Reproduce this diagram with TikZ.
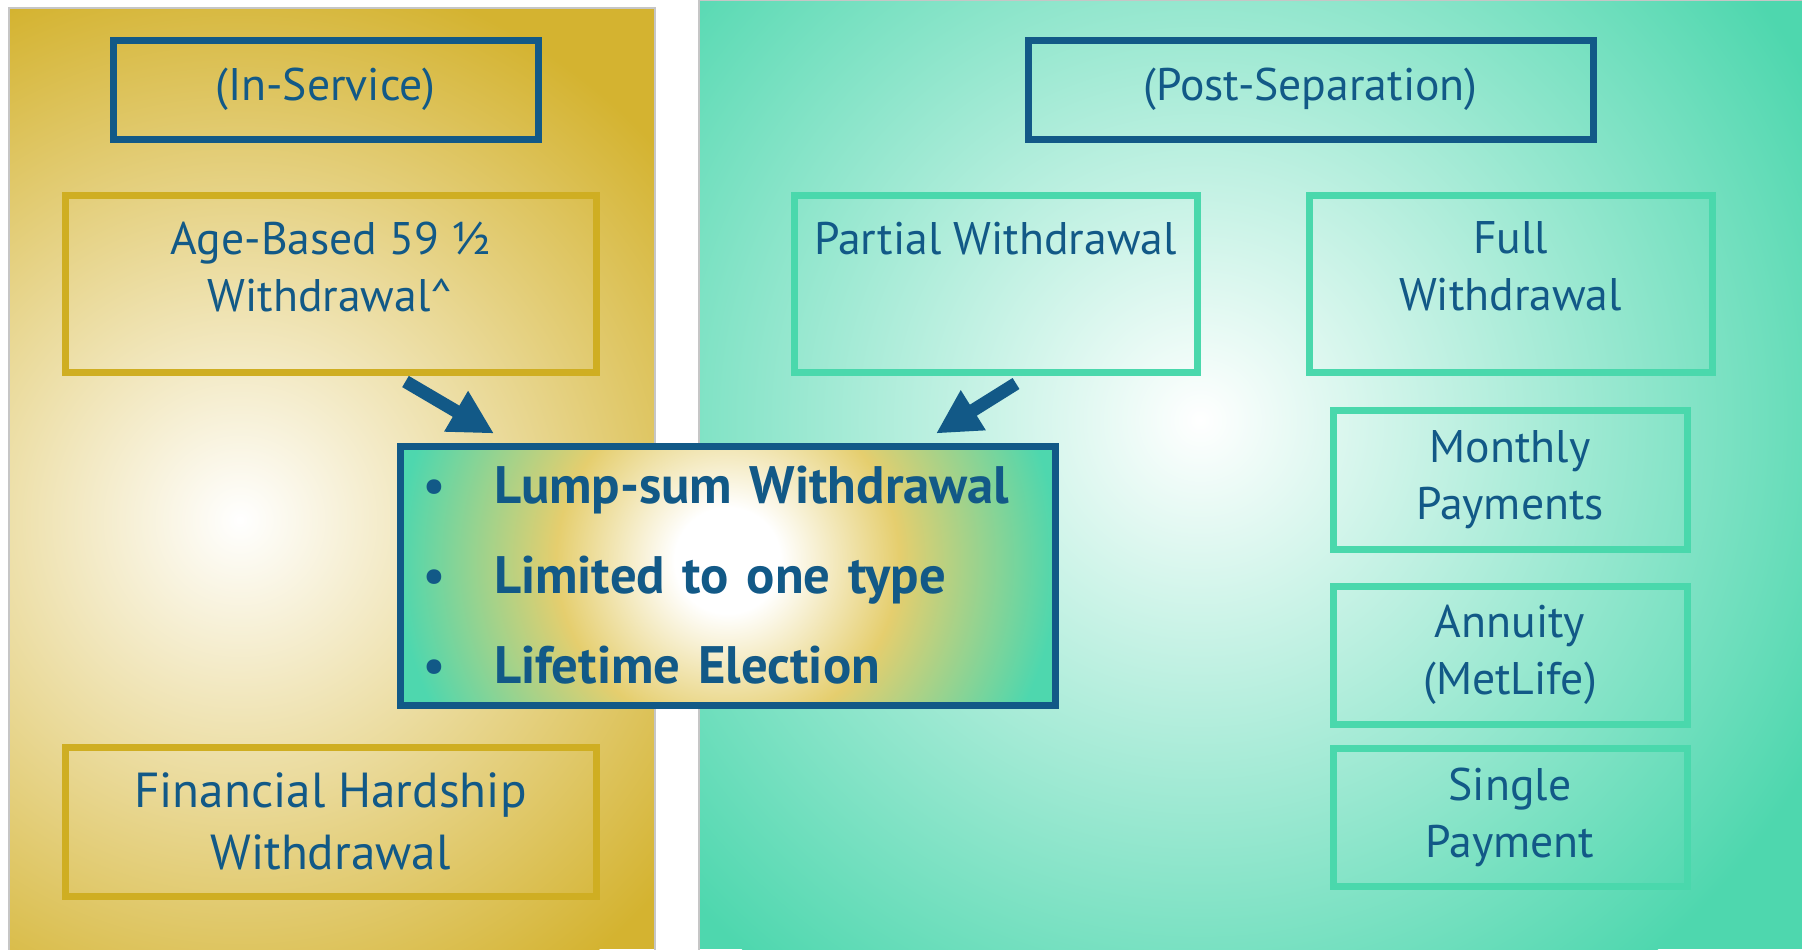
\documentclass[tikz,border=0pt]{standalone}
\usepackage{fontspec}
\setmainfont{PT Sans}
\usetikzlibrary{arrows.meta,calc}

\definecolor{planblue}{RGB}{18,89,135}
\definecolor{goldline}{RGB}{207,174,34}
\definecolor{goldpanel}{RGB}{212,179,48}
\definecolor{tealline}{RGB}{74,216,172}
\definecolor{tealpanel}{RGB}{78,215,174}
\definecolor{ringgold}{RGB}{229,206,110}
\pgfdeclareradialshading{lumpshade}{\pgfpoint{0bp}{0bp}}{color(0bp)=(white); color(4bp)=(white); color(13bp)=(ringgold); color(25bp)=(tealpanel); color(50bp)=(tealpanel)}

\begin{document}
\begin{tikzpicture}[
    txt/.style={text=planblue,align=center,font=\fontsize{13}{16.2}\selectfont},
    headbox/.style={txt,draw=planblue,line width=0.07cm,minimum height=0.99cm},
    goldbox/.style={txt,draw=goldline,line width=0.07cm,minimum width=5.31cm,inner sep=0pt},
    tealbox/.style={txt,draw=tealline,line width=0.07cm,inner sep=0pt},
    bigarrow/.style={planblue,line width=0.13cm,-{Triangle[width=0.44cm,length=0.44cm]}}]
    \useasboundingbox (0,0) rectangle (18.02,-9.49);

    % left panel
    \begin{scope}
      \clip (0.09,-0.08) rectangle (6.55,-9.49);
      \fill[goldpanel] (0.09,-0.08) rectangle (6.55,-9.49);
      \shade[inner color=white,outer color=goldpanel] (2.4,-5.2) circle (5.6cm);
    \end{scope}
    \draw[gray!45,line width=0.02cm] (0.09,-9.6)--(0.09,-0.08)--(6.55,-0.08)--(6.55,-9.6);

    % right panel
    \begin{scope}
      \clip (6.99,0) rectangle (18.02,-9.49);
      \fill[tealpanel] (6.99,0) rectangle (18.02,-9.49);
      \shade[inner color=white,outer color=tealpanel] (12.0,-4.2) circle (7cm);
    \end{scope}
    \draw[gray!45,line width=0.02cm] (6.99,-9.6)--(6.99,0)--(18.1,0);

    % in-service side
    \node[headbox,minimum width=4.25cm] (inserv) at (3.255,-0.895) {(In-Service)};
    \node[goldbox,minimum height=1.77cm] (agebased) at (3.305,-2.835)
      {\parbox[c][1.23cm][t]{5cm}{\centering Age-Based 59 ½\\Withdrawal\textasciicircum}};
    \node[goldbox,minimum height=1.49cm,font=\fontsize{14}{17.6}\selectfont] (hardship) at (3.305,-8.215)
      {Financial Hardship\\Withdrawal};

    % post-separation side
    \node[headbox,minimum width=5.65cm] (postsep) at (13.105,-0.895) {(Post-Separation)};
    \node[tealbox,minimum width=4.03cm,minimum height=1.77cm] (partial) at (9.955,-2.835)
      {\parbox[c][1.23cm][t]{3.8cm}{\centering Partial Withdrawal}};
    \node[tealbox,minimum width=4.03cm,minimum height=1.77cm] (full) at (15.105,-2.835)
      {\parbox[c][1.23cm][t]{3.8cm}{\centering Full\\Withdrawal}};
    \node[tealbox,minimum width=3.54cm,minimum height=1.39cm] (monthly) at (15.10,-4.795) {Monthly\\Payments};
    \node[tealbox,minimum width=3.54cm,minimum height=1.38cm] (annuity) at (15.10,-6.55) {Annuity\\(MetLife)};
    \node[tealbox,minimum width=3.54cm,minimum height=1.38cm] (single) at (15.10,-8.17) {Single\\Payment};

    % lump-sum box
    \node[draw=planblue,fill=tealpanel,line width=0.07cm,minimum width=6.55cm,minimum height=2.59cm,
      inner xsep=0.22cm,text width=6.11cm,align=left,text=planblue,
      font=\fontsize{15}{25.6}\selectfont\bfseries,
      path picture={\shade[shading=lumpshade] ([yshift=0.15cm]path picture bounding box.center) circle (3.3cm);}]
      (lump) at (7.275,-5.755)
      {\makebox[0.72cm][l]{\mdseries\textbullet}Lump-sum Withdrawal\\
       \makebox[0.72cm][l]{\mdseries\textbullet}Limited to one type\\
       \makebox[0.72cm][l]{\mdseries\textbullet}Lifetime Election};

    \draw[bigarrow] ([shift={(0.75,-0.06)}]agebased.south)--([shift={(-2.335,0.09)}]lump.north);
    \draw[bigarrow] ([shift={(0.205,-0.08)}]partial.south)--([shift={(2.085,0.09)}]lump.north);
\end{tikzpicture}
\end{document}
